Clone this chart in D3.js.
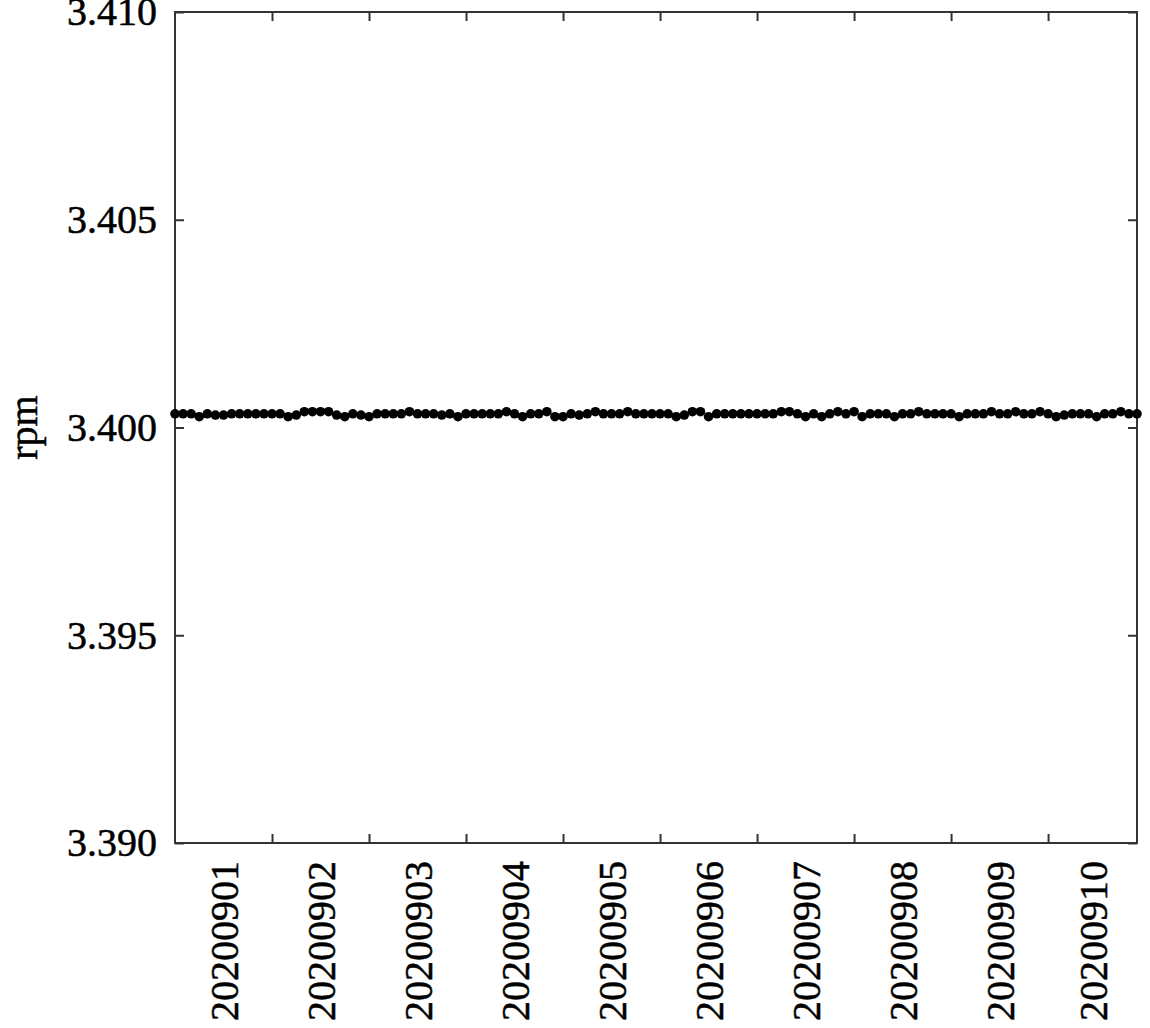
<!DOCTYPE html>
<html>
<head>
<meta charset="utf-8">
<script src="https://cdn.jsdelivr.net/npm/d3@7"></script>
<style>
html,body{margin:0;padding:0;background:#fff;}
text{font-family:"Liberation Serif","Times New Roman",serif;}
</style>
</head>
<body>
<svg id="chart" width="1150" height="1028"></svg>
<script>
const dayLabels = ["20200901","20200902","20200903","20200904","20200905","20200906","20200907","20200908","20200909","20200910"];
const yTicks = [3.390, 3.395, 3.400, 3.405, 3.410];
// 2-hourly readings, 12 per day, starting 2020-09-01 00:00
const H = 3.40038, M = 3.40033, ML = 3.40030, L = 3.40026;
const day1  = [M, M, M, L, M, ML, ML, M, M, M, M, M];
const day2  = [M, M, L, ML, H, H, H, H, ML, L, M, ML];
const day3  = [L, M, M, M, M, H, M, M, M, ML, M, L];
const day4  = [M, M, M, M, M, H, M, L, M, M, H, L];
const day5  = [L, M, ML, M, H, M, M, M, H, M, M, M];
const day6  = [M, M, L, ML, H, H, L, M, M, M, M, M];
const day7  = [M, M, M, H, H, M, L, M, L, M, H, M];
const day8  = [H, L, M, M, M, L, M, M, H, M, M, M];
const day9  = [M, L, M, M, M, H, M, M, H, M, M, H];
const day10 = [M, L, ML, M, M, M, L, M, M, H, M, M];
const rpm = [].concat(day1, day2, day3, day4, day5, day6, day7, day8, day9, day10);
const hoursStep = 2;

const svg = d3.select("#chart");
const margin = {left: 175, right: 1137, top: 12, bottom: 843};
const xMax = (rpm.length - 1) * hoursStep / 24;
const x = d3.scaleLinear().domain([0, xMax]).range([margin.left, margin.right]);
const y = d3.scaleLinear().domain([3.390, 3.410]).range([margin.bottom, margin.top]);

const g = svg.append("g");
const frameColor = "#333";
const tickLen = 9;
const textStroke = 0.5;

// frame
g.append("rect").attr("x", margin.left).attr("y", margin.top)
  .attr("width", margin.right - margin.left).attr("height", margin.bottom - margin.top)
  .attr("fill", "none").attr("stroke", frameColor).attr("stroke-width", 2);

// y ticks (inward left & right)
const yAxisL = d3.axisLeft(y).tickValues(yTicks).tickSizeInner(-tickLen).tickSizeOuter(0)
  .tickFormat(d3.format(".3f")).tickPadding(18);
const yl = g.append("g").attr("transform", `translate(${margin.left},0)`).call(yAxisL);
yl.select(".domain").remove();
yl.selectAll("line").attr("stroke", frameColor).attr("stroke-width", 2);
yl.selectAll("text").attr("font-size", 40).attr("fill", "#000").attr("stroke", "#000")
  .attr("stroke-width", textStroke).attr("font-family", "Liberation Serif");
const yAxisR = d3.axisRight(y).tickValues(yTicks).tickSizeInner(-tickLen).tickSizeOuter(0).tickFormat("");
const yr = g.append("g").attr("transform", `translate(${margin.right},0)`).call(yAxisR);
yr.select(".domain").remove();
yr.selectAll("line").attr("stroke", frameColor).attr("stroke-width", 2);

// x ticks at day boundaries (inward top & bottom)
const boundaries = d3.range(1, dayLabels.length);
const xAxisB = d3.axisBottom(x).tickValues(boundaries).tickSizeInner(-tickLen).tickSizeOuter(0).tickFormat("");
const xb = g.append("g").attr("transform", `translate(0,${margin.bottom})`).call(xAxisB);
xb.select(".domain").remove();
xb.selectAll("line").attr("stroke", frameColor).attr("stroke-width", 2);
const xAxisT = d3.axisTop(x).tickValues(boundaries).tickSizeInner(-tickLen).tickSizeOuter(0).tickFormat("");
const xt = g.append("g").attr("transform", `translate(0,${margin.top})`).call(xAxisT);
xt.select(".domain").remove();
xt.selectAll("line").attr("stroke", frameColor).attr("stroke-width", 2);

// x labels at mid-day, rotated
const labelMid = dayLabels.map((d, i) => ({label: d, pos: Math.min(i + 0.5, (i + xMax) / 2)}));
g.selectAll("text.xlab").data(labelMid).enter().append("text")
  .attr("class", "xlab")
  .attr("transform", d => `translate(${x(d.pos) + 14},${margin.bottom + 18}) rotate(-90)`)
  .attr("text-anchor", "end")
  .attr("font-size", 40)
  .attr("fill", "#000").attr("stroke", "#000").attr("stroke-width", textStroke)
  .text(d => d.label);

// y axis title
g.append("text").attr("transform", `translate(37,${y(3.400)}) rotate(-90)`)
  .attr("text-anchor", "middle").attr("font-size", 40).attr("fill", "#000")
  .attr("stroke", "#000").attr("stroke-width", textStroke).text("rpm");

// points
g.selectAll("circle.pt").data(rpm).enter().append("circle")
  .attr("class", "pt")
  .attr("cx", (d, i) => x(i * hoursStep / 24))
  .attr("cy", d => y(d))
  .attr("r", 4.8)
  .attr("fill", "#000");
</script>
</body>
</html>
